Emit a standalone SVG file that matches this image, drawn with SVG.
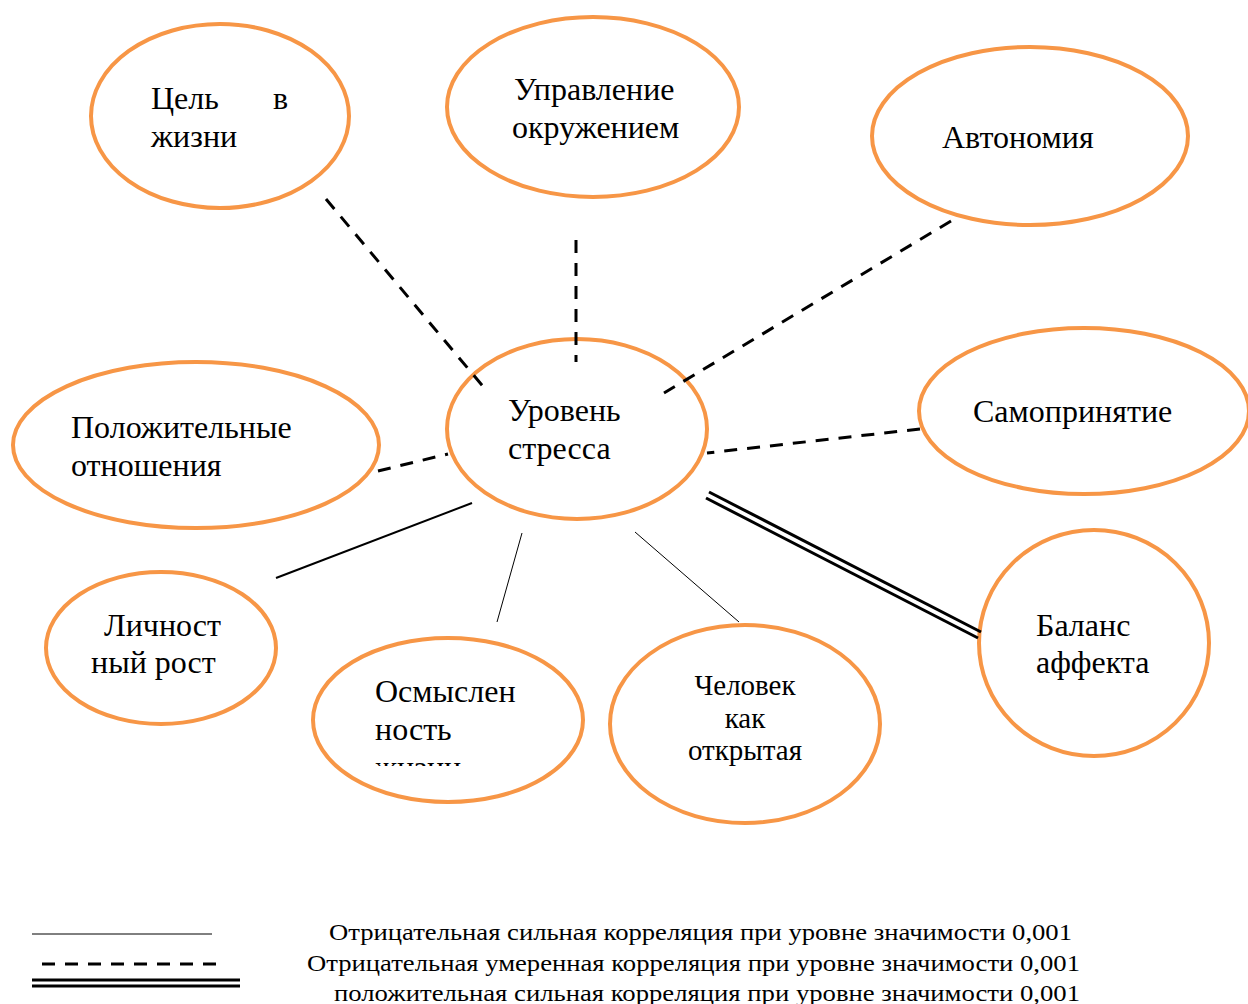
<svg xmlns="http://www.w3.org/2000/svg" width="1248" height="1004" viewBox="0 0 1248 1004">
<style>
.n{fill:#fff;stroke:#F79646;stroke-width:4}
.t{font-family:"Liberation Serif","Times New Roman",serif;font-size:32px;fill:#000}
.s{font-size:29px}
.lg{font-family:"Liberation Serif","Times New Roman",serif;font-size:24px;fill:#000}
.dash{stroke:#000;stroke-width:3;stroke-dasharray:13 10;fill:none}
.thin{stroke:#000;stroke-width:1;fill:none}
.solid{stroke:#000;stroke-width:2;fill:none}
.dbl{stroke:#000;stroke-width:3;fill:none}
</style>
<defs>
<clipPath id="clipO"><rect x="300" y="640" width="300" height="126"/></clipPath>
</defs>
<rect width="1248" height="1004" fill="#fff"/>
<g id="nodes">
<g id="n-cel"><ellipse class="n" cx="220" cy="116" rx="129" ry="92"/><text class="t" x="151" y="109">Цель</text><text class="t" x="273" y="109">в</text><text class="t" x="151" y="147">жизни</text></g>
<g id="n-upr"><ellipse class="n" cx="593" cy="107" rx="146" ry="90"/><text class="t" x="514" y="100">Управление</text><text class="t" x="512" y="138">окружением</text></g>
<g id="n-avt"><ellipse class="n" cx="1030" cy="136" rx="158" ry="89"/><text class="t" x="942" y="148">Автономия</text></g>
<g id="n-sam"><ellipse class="n" cx="1084" cy="411" rx="165" ry="83"/><text class="t" x="973" y="422">Самопринятие</text></g>
<g id="n-pol"><ellipse class="n" cx="196" cy="445" rx="183" ry="83"/><text class="t" x="71" y="438">Положительные</text><text class="t" x="71" y="476">отношения</text></g>
<g id="n-lich"><ellipse class="n" cx="161" cy="648" rx="115" ry="76"/><text class="t" x="104" y="636">Личност</text><text class="t" x="91" y="673">ный рост</text></g>
<g id="n-osm"><ellipse class="n" cx="448" cy="720" rx="135" ry="82"/><g clip-path="url(#clipO)"><text class="t" x="375" y="702">Осмыслен</text><text class="t" x="375" y="740">ность</text><text class="t" x="375" y="778">жизни</text></g></g>
<g id="n-chel"><ellipse class="n" cx="745" cy="724" rx="135" ry="99"/><text class="t s" x="745" y="695" text-anchor="middle">Человек</text><text class="t s" x="745" y="728" text-anchor="middle">как</text><text class="t s" x="745" y="760" text-anchor="middle">открытая</text></g>
<g id="n-bal"><ellipse class="n" cx="1094" cy="643" rx="115" ry="113"/><text class="t" x="1036" y="636">Баланс</text><text class="t" x="1036" y="673">аффекта</text></g>
<g id="n-stress"><ellipse class="n" cx="577" cy="429" rx="130" ry="90"/><text class="t" x="508" y="421">Уровень</text><text class="t" x="508" y="459">стресса</text></g>
</g>
<g id="connectors">
<line class="dash" x1="326" y1="199" x2="486" y2="390"/>
<line class="dash" x1="576" y1="240" x2="576" y2="362"/>
<line class="dash" x1="951" y1="221" x2="664" y2="393"/>
<line class="dash" x1="920" y1="429" x2="707" y2="453"/>
<line class="dash" x1="378" y1="471" x2="448" y2="454"/>
<line class="solid" x1="276" y1="578" x2="472" y2="503"/>
<line class="thin" x1="497" y1="622" x2="522" y2="533"/>
<line class="thin" x1="635" y1="532" x2="739" y2="622"/>
<line class="dbl" x1="709" y1="492" x2="981" y2="632"/>
<line class="dbl" x1="706" y1="498" x2="978" y2="638"/>
</g>
<g id="legend">
<line class="thin" x1="32" y1="934" x2="212" y2="934"/>
<line class="dash" x1="42" y1="964" x2="222" y2="964"/>
<line class="dbl" x1="32" y1="980" x2="240" y2="980"/>
<line class="dbl" x1="32" y1="986" x2="240" y2="986"/>
<text class="lg" x="329" y="940" textLength="743" lengthAdjust="spacingAndGlyphs">Отрицательная сильная корреляция при уровне значимости 0,001</text>
<text class="lg" x="307" y="971" textLength="773" lengthAdjust="spacingAndGlyphs">Отрицательная умеренная корреляция при уровне значимости 0,001</text>
<text class="lg" x="334" y="1001" textLength="746" lengthAdjust="spacingAndGlyphs">положительная сильная корреляция при уровне значимости 0,001</text>
</g>
</svg>
